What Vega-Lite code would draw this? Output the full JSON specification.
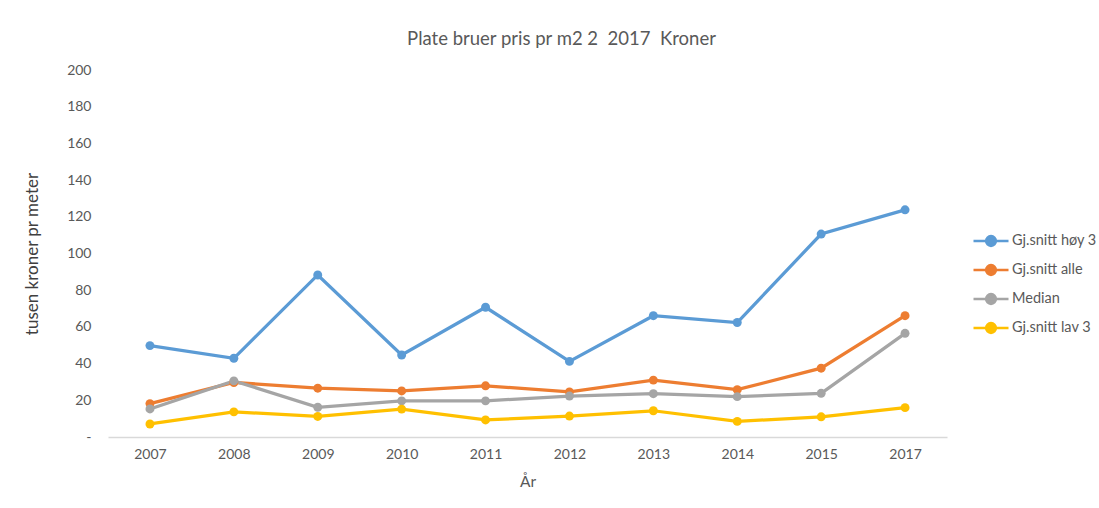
{
  "$schema": "https://vega.github.io/schema/vega-lite/v6.json",
  "width": 839,
  "height": 367,
  "autosize": {"type": "none"},
  "padding": {"left": 108, "top": 70, "right": 152, "bottom": 71},
  "background": "white",
  "title": {
    "text": "Plate bruer pris pr m2 2\u00a0 2017\u00a0 Kroner",
    "fontSize": 18.5,
    "font": "Lato",
    "fontWeight": "normal",
    "color": "#595959",
    "anchor": "middle",
    "dx": 34,
    "offset": 15
  },
  "data": {
    "values": [
      {"year": "2007", "series": "Gj.snitt høy 3", "value": 49.8},
      {"year": "2008", "series": "Gj.snitt høy 3", "value": 42.9},
      {"year": "2009", "series": "Gj.snitt høy 3", "value": 88.3},
      {"year": "2010", "series": "Gj.snitt høy 3", "value": 44.7},
      {"year": "2011", "series": "Gj.snitt høy 3", "value": 70.7},
      {"year": "2012", "series": "Gj.snitt høy 3", "value": 41.2},
      {"year": "2013", "series": "Gj.snitt høy 3", "value": 66.1},
      {"year": "2014", "series": "Gj.snitt høy 3", "value": 62.4},
      {"year": "2015", "series": "Gj.snitt høy 3", "value": 110.6},
      {"year": "2017", "series": "Gj.snitt høy 3", "value": 123.8},
      {"year": "2007", "series": "Gj.snitt alle", "value": 18.2},
      {"year": "2008", "series": "Gj.snitt alle", "value": 29.7},
      {"year": "2009", "series": "Gj.snitt alle", "value": 26.6},
      {"year": "2010", "series": "Gj.snitt alle", "value": 25.1},
      {"year": "2011", "series": "Gj.snitt alle", "value": 27.9},
      {"year": "2012", "series": "Gj.snitt alle", "value": 24.6},
      {"year": "2013", "series": "Gj.snitt alle", "value": 31.0},
      {"year": "2014", "series": "Gj.snitt alle", "value": 25.8},
      {"year": "2015", "series": "Gj.snitt alle", "value": 37.5},
      {"year": "2017", "series": "Gj.snitt alle", "value": 66.1},
      {"year": "2007", "series": "Median", "value": 15.3},
      {"year": "2008", "series": "Median", "value": 30.6},
      {"year": "2009", "series": "Median", "value": 16.2},
      {"year": "2010", "series": "Median", "value": 19.7},
      {"year": "2011", "series": "Median", "value": 19.7},
      {"year": "2012", "series": "Median", "value": 22.3},
      {"year": "2013", "series": "Median", "value": 23.6},
      {"year": "2014", "series": "Median", "value": 22.0},
      {"year": "2015", "series": "Median", "value": 23.8},
      {"year": "2017", "series": "Median", "value": 56.5},
      {"year": "2007", "series": "Gj.snitt lav 3", "value": 7.1},
      {"year": "2008", "series": "Gj.snitt lav 3", "value": 13.7},
      {"year": "2009", "series": "Gj.snitt lav 3", "value": 11.2},
      {"year": "2010", "series": "Gj.snitt lav 3", "value": 15.2},
      {"year": "2011", "series": "Gj.snitt lav 3", "value": 9.3},
      {"year": "2012", "series": "Gj.snitt lav 3", "value": 11.4},
      {"year": "2013", "series": "Gj.snitt lav 3", "value": 14.3},
      {"year": "2014", "series": "Gj.snitt lav 3", "value": 8.5},
      {"year": "2015", "series": "Gj.snitt lav 3", "value": 11.0},
      {"year": "2017", "series": "Gj.snitt lav 3", "value": 16.0}
    ]
  },
  "encoding": {
    "x": {
      "field": "year",
      "type": "ordinal",
      "scale": {"type": "point", "padding": 0.5},
      "axis": {
        "title": "År",
        "titleFont": "Lato",
        "titleFontSize": 15.5,
        "titleFontWeight": "normal",
        "titleColor": "#595959",
        "titlePadding": 13,
        "labelAngle": 0,
        "labelFont": "Lato",
        "labelFontSize": 14,
        "labelColor": "#595959",
        "labelPadding": 10,
        "ticks": false,
        "domainColor": "#D9D9D9",
        "domainWidth": 1.5,
        "grid": false
      }
    },
    "y": {
      "field": "value",
      "type": "quantitative",
      "scale": {"domain": [0, 200], "nice": false},
      "axis": {
        "title": "tusen kroner pr meter",
        "titleFont": "Lato",
        "titleFontSize": 17,
        "titleFontWeight": "normal",
        "titleColor": "#404040",
        "titlePadding": 25,
        "values": [0, 20, 40, 60, 80, 100, 120, 140, 160, 180, 200],
        "labelExpr": "datum.value == 0 ? '-' : datum.label",
        "labelFont": "Lato",
        "labelFontSize": 14,
        "labelColor": "#595959",
        "labelPadding": 17,
        "ticks": false,
        "domain": false,
        "grid": false
      }
    },
    "color": {
      "field": "series",
      "type": "nominal",
      "sort": ["Gj.snitt høy 3", "Gj.snitt alle", "Median", "Gj.snitt lav 3"],
      "scale": {
        "domain": ["Gj.snitt høy 3", "Gj.snitt alle", "Median", "Gj.snitt lav 3"],
        "range": ["#5B9BD5", "#ED7D31", "#A5A5A5", "#FFC000"]
      },
      "legend": {
        "title": null,
        "orient": "none",
        "legendX": 864,
        "legendY": 152,
        "symbolType": "M-1,0L1,0M-0.28,0A0.28,0.28 0 1,1 0.28,0A0.28,0.28 0 1,1 -0.28,0Z",
        "symbolSize": 1225,
        "symbolStrokeWidth": 2.5,
        "labelFont": "Lato",
        "labelFontSize": 14.5,
        "labelColor": "#595959",
        "labelOffset": 2,
        "rowPadding": 0
      }
    }
  },
  "layer": [
    {
      "mark": {"type": "line", "strokeWidth": 3.25},
      "encoding": {}
    },
    {
      "mark": {"type": "point", "filled": true, "size": 80, "opacity": 1},
      "encoding": {}
    }
  ],
  "config": {"view": {"stroke": null}}
}
